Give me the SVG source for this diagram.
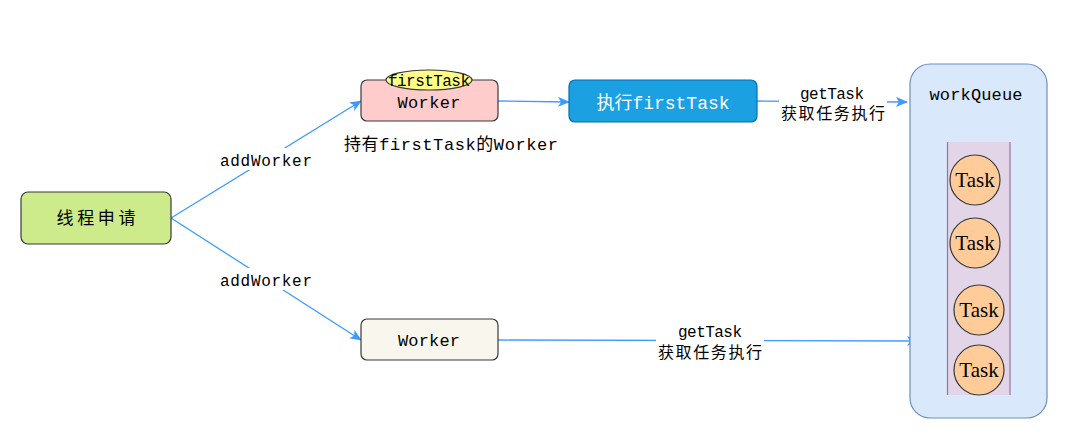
<svg xmlns="http://www.w3.org/2000/svg" width="1092" height="448" viewBox="0 0 1092 448">
<defs>
<marker id="arr" markerWidth="12" markerHeight="10" refX="11" refY="5" orient="auto" markerUnits="userSpaceOnUse">
<path d="M0,0 L12,5 L0,10 L3,5 Z" fill="#3d9bff"/>
</marker>
<style>
.t{font-family:"Liberation Mono","Noto Sans CJK SC",monospace;font-size:17px;fill:#000;text-anchor:middle}
.lbl{font-family:"Liberation Mono","Noto Sans CJK SC",monospace;font-size:16px;fill:#000;text-anchor:middle}
.c{stroke:#3d9bff;stroke-width:1.3;fill:none;marker-end:url(#arr)}
.task{fill:#ffcc99;stroke:#36393d;stroke-width:1.2}
.tt{font-family:"Liberation Serif",serif;font-size:21px;fill:#000;text-anchor:middle}
</style>
</defs>
<rect width="1092" height="448" fill="#fff"/>
<g id="connectors">
<path class="c" d="M171,218 L361,101"/>
<path class="c" d="M171,218 L361,340"/>
<path class="c" d="M498,101 L569,102"/>
<path class="c" d="M757,101 L907,102"/>
<path class="c" d="M498,340 L918,341"/>
<rect x="218" y="148" width="96" height="22" fill="#fff"/>
<text class="lbl" x="266" y="166" textLength="92">addWorker</text>
<rect x="218" y="268" width="96" height="22" fill="#fff"/>
<text class="lbl" x="266" y="286" textLength="92">addWorker</text>
<rect x="779" y="84" width="108" height="40" fill="#fff"/>
<text class="lbl" x="832" y="99" textLength="64">getTask</text>
<text class="lbl" x="833" y="119" textLength="104">获取任务执行</text>
<rect x="656" y="321" width="108" height="40" fill="#fff"/>
<text class="lbl" x="710" y="337" textLength="64">getTask</text>
<text class="lbl" x="710" y="358" textLength="104">获取任务执行</text>
</g>
<g id="apply">
<rect x="21" y="192" width="150" height="52" rx="7" fill="#cdeb8b" stroke="#36393d" stroke-width="1.2"/>
<text class="t" x="96" y="224" textLength="79">线程申请</text>
</g>
<g id="workerFirst">
<rect x="361" y="80" width="137" height="41" rx="6" fill="#ffcccc" stroke="#36393d" stroke-width="1.2"/>
<text class="t" x="429" y="108" textLength="63">Worker</text>
<ellipse cx="429" cy="80" rx="43" ry="10" fill="#ffff88" stroke="#36393d" stroke-width="1.2"/>
<text class="lbl" x="429" y="86" textLength="82">firstTask</text>
<text class="t" x="451" y="150" textLength="214">持有firstTask的Worker</text>
</g>
<g id="exec">
<rect x="569" y="80" width="188" height="42" rx="6" fill="#1ba1e2" stroke="#006eaf" stroke-width="1.2"/>
<text class="t" x="663" y="109" textLength="133" style="fill:#fff;font-size:18px">执行firstTask</text>
</g>
<g id="worker">
<rect x="361" y="319" width="137" height="41" rx="6" fill="#f9f7ed" stroke="#36393d" stroke-width="1.2"/>
<text class="t" x="429" y="346" textLength="62">Worker</text>
</g>
<g id="workQueue">
<rect x="910" y="64" width="137" height="354" rx="20" fill="#dae8fc" stroke="#6c8ebf" stroke-width="1.2"/>
<text class="t" x="976" y="100" textLength="93">workQueue</text>
<rect x="947" y="142" width="63" height="253" fill="#e1d5e7"/>
<line x1="947.5" y1="142" x2="947.5" y2="395" stroke="#9673a6" stroke-width="1.2"/>
<line x1="1010" y1="142" x2="1010" y2="395" stroke="#9673a6" stroke-width="1.2"/>
</g>
<g id="task1"><circle class="task" cx="975" cy="180" r="25"/><text class="tt" x="975" y="187">Task</text></g>
<g id="task2"><circle class="task" cx="975" cy="243" r="25"/><text class="tt" x="975" y="250">Task</text></g>
<g id="task3"><circle class="task" cx="979" cy="310" r="25"/><text class="tt" x="979" y="317">Task</text></g>
<g id="task4"><circle class="task" cx="979" cy="370" r="25"/><text class="tt" x="979" y="377">Task</text></g>
</svg>
